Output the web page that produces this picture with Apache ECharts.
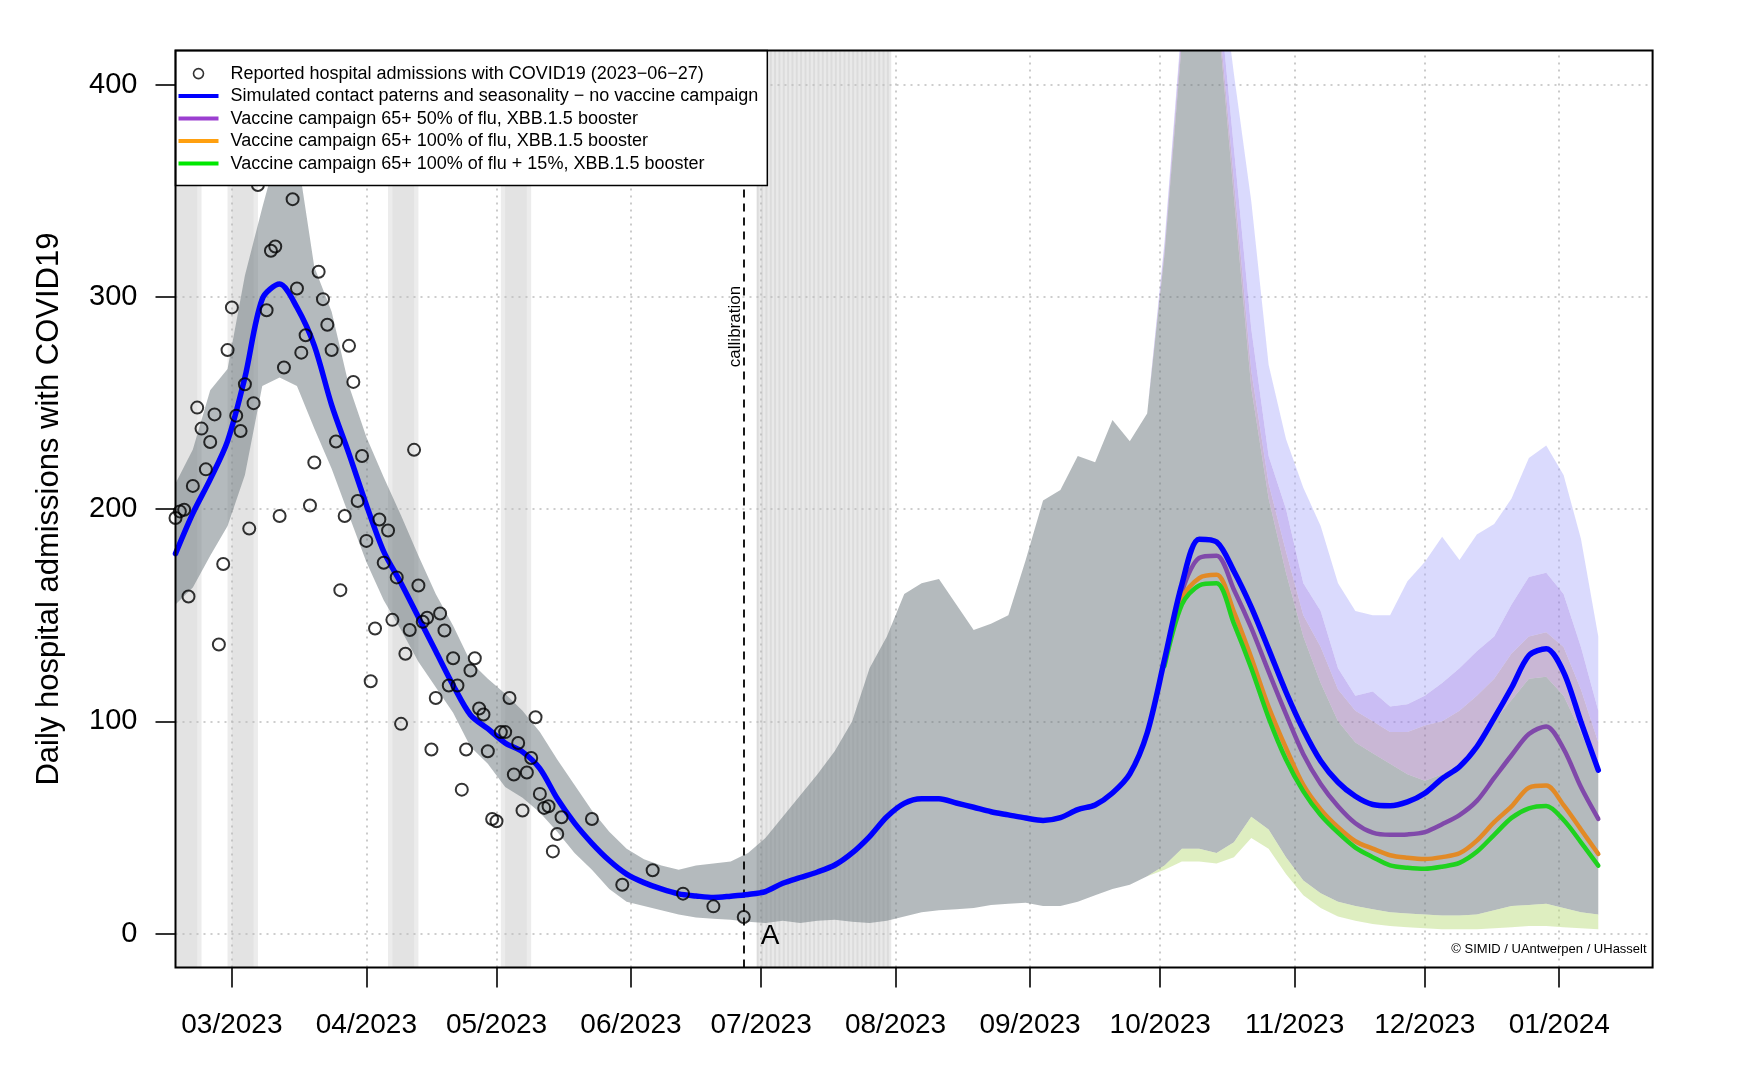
<!DOCTYPE html>
<html>
<head>
<meta charset="utf-8">
<script src="https://cdn.jsdelivr.net/npm/echarts@6/dist/echarts.min.js"></script>
<style>html,body{margin:0;padding:0;background:#fff}#chart{width:1764px;height:1090px}</style>
</head>
<body>
<div id="chart"></div>
<script>
// ---------------- DATA ----------------
// model output, one value every 4 days starting 2023-02-16
const modelStart = '2023-02-16';
const modelStepDays = 4;
const blueLine = [179,198,214,232,262,299,306,295,277,249,226,202,180,165,149,133,117,103,96.5,89.8,85.6,77.7,63.6,52,42.5,34.4,28,24,21,18.7,17.7,17,17.6,18.4,19.8,23.7,26.4,29,32.3,38,45.7,55,61.3,63.5,63.5,61.5,59.5,57.4,55.9,54.4,53.3,54.6,58.4,60.6,66.2,75.2,94.5,129,164.5,185.8,184.5,170.7,153.8,134,113.8,96,81.3,71.3,64.7,60.8,60.2,62,66.1,73,78.6,88,101.5,115.8,131,134.2,123.2,99.7,77];
// uncertainty band common to all scenarios (upper / lower)
const bandUpper = [212,228,256,266,310,342,372,368,314,293,258,234,215,197,178,160,145,128,120,113,105,95,82,70,58,48,40,35,32,30,32,33,34,38,45,55,65,75,86,100,125,140,160,165,167,155,143,146,150,176,204,209,225,222,242,232,245,320,420,470,440,347,257,205,170,140,118,100,90,85,80,75,72,75,80,88,100,110,120,121,112,95,75];
const bandLower = [155,163,178,192,216,258,262,258,238,219,197,175,157,143,128,116,104,88,80,69,64,57,48,38,30,21,15,13,11,9,7.5,7,6.5,5.5,5,6,5,6,6.5,5.5,5,6,8,10,11,11.5,12,13.5,14,14.5,13,13,15,18,21,23,27,32,40,40,38,43,55,49,36,25,19,15,13,11.5,10,9.5,9,8.5,8.5,9,11,13,13.5,14,12,10,9];

// vaccine-campaign scenarios, every 4 days starting 2023-10-02
const scenarioStart = '2023-10-02';
const purpleLine = [128,161,177,178,162,144,123.4,103.4,84.5,70.5,60,52,47.5,46.5,46.7,47.8,51.5,55.8,62.5,73.3,84,94,97.6,87,69,54];
const orangeLine = [127,158,167.5,169,151.6,130,106.8,87.4,70,58.5,50.1,43.5,40,36.9,35.7,35.1,36,37.8,43.8,52.5,59.9,68.7,69.7,60.5,49,37.5];
const greenLine  = [126,155,164,165,146,125,101.6,82,67,55.8,47.5,40.5,36,32.1,31,30.5,31.5,33.3,38.5,46.5,54.5,59,60.1,53.5,43,32];
const orangeUpper = [322,425,472,445,355,265,212,180,150,135,115,105,100,95,95,98,100,105,112,120,132,140,142,135,115,90];
const purpleUpper = [324,428,475,455,370,285,225,200,165,152,125,112,114,107,108,112,118,125,133,140,155,168,170,160,135,105];
const blueUpper   = [326,430,480,470,405,345,268,233,210,192,165,152,150,150,166,175,187,176,188,193,205,224,230,216,186,140];
const greenLower  = [30,34,34,33,36,45,40,28,18,12,8,6,4.5,3.5,3,2.5,2,2,2,2.5,3,3.5,3.5,3,2.5,2];

// reported admissions: daily from 2023-02-15, then weekly
const obsStart = '2023-02-15';
const obsDaily = [210.1,195.8,198.9,199.7,158.8,210.9,247.8,237.9,218.7,231.6,244.6,136.2,174.1,274.9,295,244,236.8,258.8,190.8,249.9,352.7,null,293.7,321.7,323.7,196.7,266.7,null,346,303.9,273.7,281.9,201.7,221.9,311.8,298.9,286.8,274.9,231.8,161.8,196.7,276.9,259.9,203.8,225,185,118.9,143.7,195.1,174.7,189.9,147.8,167.8,98.8,131.8,143,227.9,164,146.9,148.8,86.7,111,150.8,142.8,116.9,129.7,116.9,67.8,86.7,123.9,129.7,106,103.2,85.9,54,52.9,94.9,94.9,111,74.9,89.8,58,75.9,82.7,101.9,65.8,59.2,60,38.7,46.9,54.8];
const obsWeeklyDates = ['2023-05-23','2023-05-30','2023-06-06','2023-06-13','2023-06-20','2023-06-27'];
const obsWeekly = [54,23,29.8,18.8,12.8,7.8];

// holidays (outer / inner shade)
const holidayOuter = [['2023-02-15','2023-02-22'],['2023-02-28','2023-03-07'],['2023-04-06','2023-04-13'],['2023-05-02','2023-05-09']];
const holidayInner = [['2023-02-15','2023-02-21'],['2023-03-01','2023-03-06'],['2023-04-07','2023-04-12'],['2023-05-03','2023-05-08']];
const summerHoliday = ['2023-06-30','2023-07-31'];
const calibrationDate = '2023-06-27';

// axes
const monthTicks = ['2023-03-01','2023-04-01','2023-05-01','2023-06-01','2023-07-01','2023-08-01','2023-09-01','2023-10-01','2023-11-01','2023-12-01','2024-01-01'];
const yTicks = [0,100,200,300,400];

const names = {
  obs: 'Reported hospital admissions with COVID19 (2023\u221206\u221227)',
  blue: 'Simulated contact paterns and seasonality \u2212 no vaccine campaign',
  purple: 'Vaccine campaign 65+ 50% of flu, XBB.1.5 booster',
  orange: 'Vaccine campaign 65+ 100% of flu, XBB.1.5 booster',
  green: 'Vaccine campaign 65+ 100% of flu + 15%, XBB.1.5 booster'
};

// ---------------- HELPERS ----------------
const FONT = "'Liberation Sans', Arial, Helvetica, sans-serif";
function ts(s, addDays) {
  const p = s.split('-').map(Number);
  return new Date(p[0], p[1] - 1, p[2] + (addDays || 0)).getTime();
}
const DAY = 86400000;
const modelDates = blueLine.map((_, i) => ts(modelStart, i * modelStepDays));
const k0 = Math.round((ts(scenarioStart) - ts(modelStart)) / DAY / modelStepDays);
const scenDates = purpleLine.map((_, i) => ts(scenarioStart, i * modelStepDays));
const full = (arr, fallback) => fallback.map((v, i) => (i < k0 ? v : arr[i - k0]));
const topMauve = full(orangeUpper, bandUpper);
const topPurple = full(purpleUpper, bandUpper);
const topLav = full(blueUpper, bandUpper);
const lowGreen = full(greenLower, bandLower);
const pair = (vals) => vals.map((v, i) => [modelDates[i], v]);
const pairS = (vals) => vals.map((v, i) => [scenDates[i], v]);

const obsData = [];
obsDaily.forEach((v, i) => { if (v !== null) obsData.push([ts(obsStart, i), v]); });
obsWeeklyDates.forEach((d, i) => obsData.push([ts(d), obsWeekly[i]]));

// markAreas for holidays
const areas = [];
holidayOuter.forEach(h => areas.push([{ xAxis: ts(h[0]), itemStyle: { color: '#ececec' } }, { xAxis: ts(h[1]) }]));
holidayInner.forEach(h => areas.push([{ xAxis: ts(h[0]), itemStyle: { color: '#e3e3e3' } }, { xAxis: ts(h[1]) }]));
areas.push([{ xAxis: ts(summerHoliday[0]), itemStyle: { color: '#e9e9e9' } }, { xAxis: ts(summerHoliday[1]) }]);
const nSummer = Math.round((ts(summerHoliday[1]) - ts(summerHoliday[0])) / DAY);
for (let k = 0; k < nSummer; k++) {
  const a = ts(summerHoliday[0], k);
  areas.push([{ xAxis: a, itemStyle: { color: '#dcdcdc' } }, { xAxis: a + DAY * 0.45 }]);
}

const gridLines = [];
yTicks.forEach(v => gridLines.push({ yAxis: v }));
monthTicks.forEach(m => gridLines.push({ xAxis: ts(m) }));

const GRID = { left: 175.5, top: 50.6, right: 111.4, bottom: 122.5 };

// ribbon drawn as one polygon through the axes' scales
function ribbon(name, xs, low, up, color) {
  return {
    name, type: 'custom', silent: true, z: 2,
    data: xs.map((x, i) => [x, low[i], up[i]]),
    encode: { x: 0, y: [1, 2] },
    renderItem: (params, api) => {
      if (params.dataIndex !== 0) return null;
      const pts = [];
      for (let i = 0; i < xs.length; i++) pts.push(api.coord([xs[i], up[i]]));
      for (let i = xs.length - 1; i >= 0; i--) pts.push(api.coord([xs[i], low[i]]));
      const cs = params.coordSys;
      return {
        type: 'group',
        clipPath: { type: 'rect', shape: { x: cs.x, y: cs.y, width: cs.width, height: cs.height } },
        children: [{ type: 'polygon', shape: { points: pts }, style: { fill: color, stroke: null } }]
      };
    }
  };
}

function legendLine(name, color) {
  return { name, icon: 'path://M0,0H40V4H0Z', itemStyle: { color, borderWidth: 0 } };
}

function lineSeries(name, data, color, width, z) {
  return {
    name, type: 'line', data, symbol: 'none', z, smooth: 0.3,
    lineStyle: { color, width, cap: 'round', join: 'round' }, itemStyle: { color }
  };
}

const option = {
  animation: false,
  backgroundColor: '#fff',
  grid: { ...GRID, show: false },
  xAxis: {
    type: 'value',
    min: ts('2023-02-16'),
    max: new Date(2024, 0, 22, 12, 30).getTime(),
    axisLine: { show: false, onZero: false },
    splitLine: { show: false },
    axisTick: { show: true, length: 20, lineStyle: { color: '#000', width: 1.6 }, customValues: monthTicks.map(m => ts(m)) },
    axisLabel: {
      customValues: monthTicks.map(m => ts(m)),
      margin: 44, fontSize: 28, color: '#000', fontFamily: FONT,
      formatter: (val) => { const d = new Date(val); return String(d.getMonth() + 1).padStart(2, '0') + '/' + d.getFullYear(); }
    }
  },
  yAxis: {
    type: 'value', min: -16, max: 416,
    name: 'Daily hospital admissions with COVID19',
    nameLocation: 'middle', nameGap: 111, nameRotate: 90,
    nameTextStyle: { fontSize: 31, color: '#000', fontFamily: FONT },
    axisLine: { show: false, onZero: false },
    splitLine: { show: false },
    axisTick: { show: true, length: 20, lineStyle: { color: '#000', width: 1.6 }, customValues: yTicks },
    axisLabel: { customValues: yTicks, margin: 38, fontSize: 29, color: '#000', fontFamily: FONT }
  },
  legend: {
    left: 175.5, top: 50.6, orient: 'vertical', z: 30,
    backgroundColor: '#fff', borderColor: '#000', borderWidth: 1.5, borderRadius: 0,
    padding: [14, 9, 13, 3],
    itemWidth: 40, itemHeight: 10, itemGap: 4.5,
    selectedMode: false,
    textStyle: { fontSize: 18, fontFamily: FONT, color: '#000', lineHeight: 18, padding: [0, 0, 0, 7] },
    data: [
      { name: names.obs, icon: 'circle', itemStyle: { color: 'rgba(0,0,0,0)', borderColor: '#000', borderWidth: 1.6 } },
      legendLine(names.blue, '#0000ff'),
      legendLine(names.purple, '#9b3fd0'),
      legendLine(names.orange, '#ffa010'),
      legendLine(names.green, '#00e800')
    ]
  },
  series: [
    {
      name: 'backdrop', type: 'line', data: [], silent: true, symbol: 'none',
      markArea: { silent: true, z: 1, data: areas },
      markLine: {
        silent: true, z: 1.5, symbol: ['none', 'none'], label: { show: false },
        lineStyle: { type: [2, 5], color: '#bdbdbd', width: 1.6 },
        data: gridLines
      }
    },
    ribbon('band all', modelDates, bandLower, bandUpper, 'rgba(105,117,123,0.5)'),
    ribbon('band orange', modelDates, bandUpper, topMauve, 'rgba(147,111,171,0.5)'),
    ribbon('band purple', modelDates, topMauve, topPurple, 'rgba(149,123,233,0.5)'),
    ribbon('band blue', modelDates, topPurple, topLav, 'rgba(172,172,250,0.45)'),
    ribbon('band green', modelDates, lowGreen, bandLower, 'rgba(190,222,130,0.5)'),
    {
      name: 'calibration', type: 'line', data: [], silent: true, symbol: 'none',
      markLine: {
        silent: true, z: 5, symbol: ['none', 'none'], label: { show: false },
        lineStyle: { type: [8, 6], color: '#000', width: 1.8 },
        data: [{ xAxis: ts(calibrationDate) }]
      }
    },
    lineSeries(names.purple, pairS(purpleLine), '#8049aa', 4.5, 4),
    lineSeries(names.orange, pairS(orangeLine), '#e28a26', 4.5, 4),
    lineSeries(names.green, pairS(greenLine), '#1fd21f', 4.5, 4),
    lineSeries(names.blue, pair(blueLine), '#0000ff', 5.5, 5),
    {
      name: names.obs, type: 'scatter', data: obsData, symbol: 'circle', symbolSize: 12, z: 10,
      itemStyle: { color: 'rgba(0,0,0,0)', borderColor: '#000', borderWidth: 2 }
    }
  ]
};

const chart = echarts.init(document.getElementById('chart'), null, { renderer: 'canvas' });
chart.setOption(option);

const p0 = chart.convertToPixel({ xAxisIndex: 0, yAxisIndex: 0 }, [ts(calibrationDate), 0]);
const pc = chart.convertToPixel({ xAxisIndex: 0, yAxisIndex: 0 }, [ts(calibrationDate), 286]);
const W = 1764, H = 1090;
chart.setOption({
  graphic: [
    { type: 'rect', silent: true, z: 40,
      shape: { x: GRID.left, y: GRID.top, width: W - GRID.left - GRID.right, height: H - GRID.top - GRID.bottom },
      style: { fill: null, stroke: '#000', lineWidth: 2 } },
    { type: 'text', silent: true, z: 41, x: pc[0] - 8, y: pc[1], rotation: Math.PI / 2,
      style: { text: 'callibration', font: '17px ' + FONT, fill: '#000', align: 'center', verticalAlign: 'middle' } },
    { type: 'text', silent: true, z: 41, x: p0[0] + 17, y: p0[1] + 3,
      style: { text: 'A', font: '28px ' + FONT, fill: '#000', align: 'left', verticalAlign: 'middle' } },
    { type: 'text', silent: true, z: 41, x: W - GRID.right - 6, y: H - GRID.bottom - 18,
      style: { text: '\u00a9 SIMID / UAntwerpen / UHasselt', font: "13px 'Liberation Sans Narrow', 'Liberation Sans', Arial, sans-serif", fill: '#000', align: 'right', verticalAlign: 'middle' } }
  ]
});
</script>
</body>
</html>
